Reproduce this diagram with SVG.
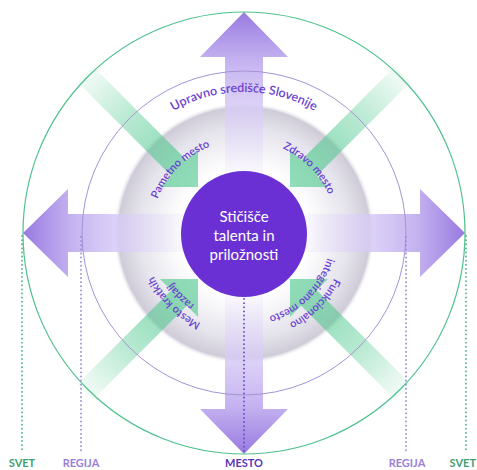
<svg xmlns="http://www.w3.org/2000/svg" xmlns:xlink="http://www.w3.org/1999/xlink" width="477" height="470" viewBox="0 0 477 470">
<style>
.ring{font-family:Lato,"Noto Sans",sans-serif;font-size:11px;fill:#6b3fd2;font-weight:600}
.top{font-size:12.5px}
.lbl{font-family:Lato,"Noto Sans",sans-serif;font-size:11px;font-weight:700;text-anchor:middle}
.ctr{font-family:Lato,"Noto Sans",sans-serif;font-size:15px;fill:#ffffff;text-anchor:middle}
.dot{stroke-width:1.8;stroke-linecap:round;stroke-dasharray:0.1 4;fill:none}
</style>
<defs>
<radialGradient id="ringG" cx="244" cy="233" r="131" gradientUnits="userSpaceOnUse">
<stop offset="0" stop-color="#ffffff"/>
<stop offset="0.5" stop-color="#ffffff"/>
<stop offset="0.8" stop-color="#e6e4ec"/>
<stop offset="0.96" stop-color="#cfccd8"/>
<stop offset="1" stop-color="#ffffff" stop-opacity="0"/>
</radialGradient>
<linearGradient id="arrG" x1="0" y1="1" x2="0" y2="0">
<stop offset="0" stop-color="#f1ecfc" stop-opacity="0.2"/>
<stop offset="0.4" stop-color="#d9cdf6" stop-opacity="0.8"/>
<stop offset="0.72" stop-color="#c4b2f0"/>
<stop offset="1" stop-color="#987ae0"/>
</linearGradient>
<linearGradient id="grnG" x1="0" y1="0" x2="1" y2="1">
<stop offset="0" stop-color="#4fc98e" stop-opacity="0"/>
<stop offset="0.45" stop-color="#4fc98e" stop-opacity="0.42"/>
<stop offset="0.75" stop-color="#4fc98e" stop-opacity="0.62"/>
<stop offset="1" stop-color="#4fc98e" stop-opacity="0.62"/>
</linearGradient>
<path id="bigArrow" d="M0,-221 L44,-176 L19,-176 L19,-50 L-19,-50 L-19,-176 L-44,-176 Z" fill="url(#arrG)"/>
<path id="grnArrow" d="M-46,-46 L-84,-46 L-72.8,-57.2 L-166.8,-151.2 L-151.2,-166.8 L-57.2,-72.8 L-46,-84 Z" fill="url(#grnG)"/>
<path id="pTop" d="M105.14,208.52 A141,141 0 0 1 382.86,208.52"/>
<path id="pUL" d="M154.17,257.07 A93,93 0 0 1 268.07,143.17"/>
<path id="pUR" d="M219.93,143.17 A93,93 0 0 1 333.83,257.07"/>
<path id="pLL1" d="M269.88,329.59 A100,100 0 0 1 147.41,207.12"/>
<path id="pLL2" d="M266.52,317.04 A87,87 0 0 1 159.96,210.48"/>
<path id="pLR1" d="M341.56,206.86 A101,101 0 0 1 217.86,330.56"/>
<path id="pLR2" d="M328.04,210.48 A87,87 0 0 1 221.48,317.04"/>
</defs>
<rect width="477" height="470" fill="#ffffff"/>
<g id="ring-zone">
<circle cx="244" cy="233" r="131" fill="url(#ringG)"/>
</g>
<g id="connectors">
<g transform="translate(244,233)">
<use xlink:href="#bigArrow"/>
<use xlink:href="#bigArrow" transform="rotate(90)"/>
<use xlink:href="#bigArrow" transform="rotate(180)"/>
<use xlink:href="#bigArrow" transform="rotate(270)"/>
<use xlink:href="#grnArrow"/>
<use xlink:href="#grnArrow" transform="rotate(90)"/>
<use xlink:href="#grnArrow" transform="rotate(180)"/>
<use xlink:href="#grnArrow" transform="rotate(270)"/>
</g>
</g>
<g id="circles">
<circle cx="244" cy="233" r="162" fill="none" stroke="#a593d6" stroke-width="1"/>
<circle cx="244" cy="233" r="221" fill="none" stroke="#4fc18d" stroke-width="1.2"/>
</g>
<g id="scale-lines">
<line class="dot" x1="22" y1="236" x2="22" y2="452" stroke="#48b583"/>
<line class="dot" x1="466" y1="236" x2="466" y2="452" stroke="#48b583"/>
<line class="dot" x1="81" y1="237" x2="81" y2="452" stroke="#9c86d8"/>
<line class="dot" x1="406" y1="237" x2="406" y2="452" stroke="#9c86d8"/>
<line class="dot" x1="244" y1="299" x2="244" y2="452" stroke="#6a44c8"/>
</g>
<g id="center-node">
<circle cx="244" cy="234" r="63" fill="#6a30d3"/>
<text class="ctr" x="244" y="222">Stičišče</text>
<text class="ctr" x="244" y="241">talenta in</text>
<text class="ctr" x="244" y="260">priložnosti</text>
</g>
<g id="ring-labels">
<text class="ring top"><textPath xlink:href="#pTop" startOffset="50%" text-anchor="middle">Upravno središče Slovenije</textPath></text>
<text class="ring"><textPath xlink:href="#pUL" startOffset="50%" text-anchor="middle">Pametno mesto</textPath></text>
<text class="ring"><textPath xlink:href="#pUR" startOffset="50%" text-anchor="middle">Zdravo mesto</textPath></text>
<text class="ring"><textPath xlink:href="#pLL1" startOffset="50%" text-anchor="middle">Mesto kratkih</textPath></text>
<text class="ring"><textPath xlink:href="#pLL2" startOffset="50%" text-anchor="middle">razdalj</textPath></text>
<text class="ring"><textPath xlink:href="#pLR1" startOffset="50%" text-anchor="middle">Funkcionalno</textPath></text>
<text class="ring"><textPath xlink:href="#pLR2" startOffset="50%" text-anchor="middle">integrirano mesto</textPath></text>
</g>
<g id="scale-labels">
<text class="lbl" x="22" y="467" fill="#3f9f70">SVET</text>
<text class="lbl" x="81" y="467" fill="#9a80d8">REGIJA</text>
<text class="lbl" x="244" y="467" fill="#5a35b8">MESTO</text>
<text class="lbl" x="407" y="467" fill="#9a80d8">REGIJA</text>
<text class="lbl" x="476" y="467" fill="#3f9f70" style="text-anchor:end">SVET</text>
</g>
</svg>
